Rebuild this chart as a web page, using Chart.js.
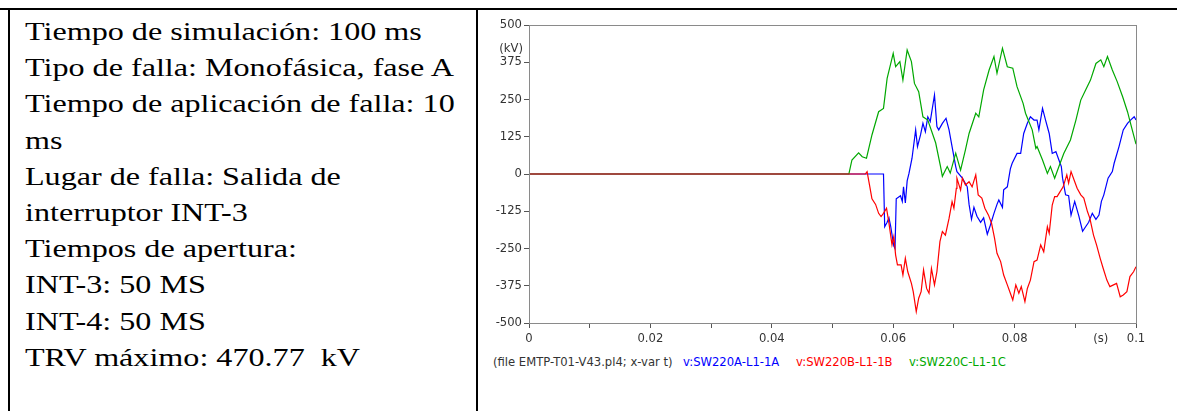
<!DOCTYPE html>
<html>
<head>
<meta charset="utf-8">
<script src="https://cdn.jsdelivr.net/npm/chart.js@4"></script>
<style>
  body { margin: 0; width: 1177px; height: 411px; background: #fff; position: relative; overflow: hidden; }
  .line { position: absolute; background: #000; }
  #info { position: absolute; left: 25px; top: 14px; font-family: "Liberation Serif", serif; font-size: 25px; line-height: 36.2px; color: #000; white-space: nowrap; transform: scaleX(1.285); transform-origin: 0 0; }
  #wrap { position: absolute; left: 480px; top: 10px; width: 670px; height: 340px; }
  .leg { position: absolute; top: 355px; font-family: "DejaVu Sans", sans-serif; font-size: 11.6px; color: #333; white-space: nowrap; }
</style>
</head>
<body>
<div class="line" style="left:0;top:8px;width:1177px;height:2px"></div>
<div class="line" style="left:8px;top:8px;width:2px;height:403px"></div>
<div class="line" style="left:476px;top:8px;width:2px;height:403px"></div>

<div id="info">
Tiempo de simulación: 100 ms<br>
Tipo de falla: Monofásica, fase A<br>
Tiempo de aplicación de falla: 10<br>
ms<br>
Lugar de falla: Salida de<br>
interruptor INT-3<br>
Tiempos de apertura:<br>
INT-3: 50 MS<br>
INT-4: 50 MS<br>
TRV máximo: 470.77&nbsp; kV
</div>

<div id="wrap"><canvas id="myChart" width="670" height="340"></canvas></div>
<div class="leg" style="left:493px">(file EMTP-T01-V43.pl4; x-var t)</div>
<div class="leg" style="left:683px;color:#0000ff">v:SW220A-L1-1A</div>
<div class="leg" style="left:796px;color:#ff0000">v:SW220B-L1-1B</div>
<div class="leg" style="left:909px;color:#00a800">v:SW220C-L1-1C</div>

<script>
// time (s) and voltage (kV)
const blueT = [0, 0.0584, 0.0586, 0.0590, 0.0593, 0.0596, 0.0601, 0.0603, 0.0605, 0.0612, 0.0615, 0.0617, 0.0620, 0.0623, 0.0626, 0.0631, 0.0637, 0.0640, 0.0645, 0.0649, 0.0653, 0.0657, 0.0661, 0.0668, 0.0672, 0.0675, 0.0681, 0.0687, 0.0692, 0.0696, 0.0700, 0.0703, 0.0705, 0.0714, 0.0722, 0.0725, 0.0729, 0.0733, 0.0738, 0.0744, 0.0749, 0.0755, 0.0760, 0.0766, 0.0771, 0.0774, 0.0780, 0.0782, 0.0788, 0.0793, 0.0796, 0.0804, 0.0810, 0.0815, 0.0821, 0.0826, 0.0832, 0.0837, 0.0840, 0.0846, 0.0851, 0.0857, 0.0862, 0.0868, 0.0873, 0.0877, 0.0879, 0.0884, 0.0889, 0.0893, 0.0899, 0.0906, 0.0912, 0.0917, 0.0922, 0.0928, 0.0934, 0.0939, 0.0943, 0.0947, 0.0954, 0.0961, 0.0964, 0.0972, 0.0979, 0.0986, 0.0991, 0.0997, 0.1];
const blueV = [0, 0, -177, -162, -147, -177, -242, -250, -83, -73, -92, -43, -97, -23, 2, 53, 148, 92, 131, 170, 142, 192, 176, 265, 159, 148, 170, 187, 148, 103, 58, 25, 8, -14, -43, -102, -152, -112, -142, -162, -147, -202, -172, -132, -102, -87, -112, -53, -43, 17, 36, 69, 69, 136, 170, 192, 181, 181, 148, 220, 181, 136, 69, 75, 47, 25, -14, -70, -73, -138, -92, -142, -192, -177, -162, -132, -152, -138, -92, -70, -14, 8, 36, 92, 148, 170, 181, 192, 181];

const redT = [0, 0.0554, 0.0557, 0.0561, 0.0565, 0.0571, 0.0576, 0.0580, 0.0584, 0.0589, 0.0593, 0.0598, 0.0601, 0.0604, 0.0607, 0.0613, 0.0616, 0.0620, 0.0624, 0.0630, 0.0633, 0.0638, 0.0642, 0.0646, 0.0650, 0.0655, 0.0659, 0.0663, 0.0668, 0.0672, 0.0677, 0.0681, 0.0686, 0.0692, 0.0697, 0.0700, 0.0704, 0.0705, 0.0711, 0.0714, 0.0719, 0.0725, 0.0730, 0.0736, 0.0740, 0.0746, 0.0751, 0.0757, 0.0762, 0.0767, 0.0771, 0.0777, 0.0782, 0.0788, 0.0793, 0.0797, 0.0802, 0.0807, 0.0811, 0.0817, 0.0821, 0.0826, 0.0832, 0.0837, 0.0843, 0.0848, 0.0854, 0.0857, 0.0862, 0.0866, 0.0870, 0.0875, 0.0880, 0.0886, 0.0889, 0.0893, 0.0898, 0.0903, 0.0909, 0.0914, 0.0920, 0.0924, 0.0930, 0.0935, 0.0941, 0.0946, 0.0952, 0.0957, 0.0963, 0.0968, 0.0974, 0.0979, 0.0985, 0.0990, 0.0996, 0.1];
const redV = [0, 0, 8, -37, -83, -102, -132, -143, -132, -115, -165, -238, -210, -272, -305, -305, -339, -283, -328, -367, -395, -462, -417, -395, -322, -384, -400, -317, -372, -328, -227, -193, -205, -149, -93, -115, -48, -14, -54, -14, -37, -26, -43, -3, -70, -81, -115, -138, -165, -216, -266, -294, -339, -372, -400, -423, -372, -400, -378, -428, -384, -356, -294, -289, -238, -261, -177, -199, -104, -76, -76, -59, -43, -3, -31, 8, -20, -48, -70, -81, -126, -149, -205, -238, -283, -317, -356, -378, -372, -367, -412, -406, -395, -344, -328, -311];

const greenT = [0, 0.0527, 0.0532, 0.0543, 0.0549, 0.0556, 0.0565, 0.0576, 0.0584, 0.0590, 0.0600, 0.0604, 0.0611, 0.0616, 0.0623, 0.0630, 0.0635, 0.0642, 0.0649, 0.0657, 0.0670, 0.0678, 0.0681, 0.0689, 0.0694, 0.0703, 0.0711, 0.0719, 0.0725, 0.0736, 0.0741, 0.0749, 0.0758, 0.0766, 0.0771, 0.0780, 0.0788, 0.0797, 0.0804, 0.0814, 0.0818, 0.0829, 0.0835, 0.0837, 0.0846, 0.0854, 0.0859, 0.0866, 0.0873, 0.0881, 0.0892, 0.0901, 0.0909, 0.0917, 0.0925, 0.0934, 0.0942, 0.0947, 0.0953, 0.0961, 0.0969, 0.0978, 0.0986, 0.0991, 0.1];
const greenV = [0, 0, 47, 71, 58, 53, 131, 209, 220, 321, 405, 360, 377, 315, 416, 377, 304, 276, 192, 181, 104, 25, -8, 25, 3, 70, 13, 81, 136, 204, 192, 282, 349, 394, 338, 422, 360, 355, 293, 237, 204, 148, 86, 92, 47, 2, 25, -14, 25, 69, 114, 181, 248, 282, 315, 371, 383, 360, 394, 349, 310, 259, 209, 170, 100];

const seriesNames = ["v:SW220A-L1-1A", "v:SW220B-L1-1B", "v:SW220C-L1-1C"];
const seriesColors = ["#0000ff", "#ff0000", "#00a800"];

const toPoints = (ts, vs) => ts.map((t, i) => ({ x: t, y: vs[i] }));

const tickFont = { family: "DejaVu Sans", size: 11.6 };

const frame = {
    id: "frame",
    afterDraw(chart) {
        const { ctx, chartArea, scales } = chart;
        ctx.save();
        ctx.strokeStyle = "#8a8a8a";
        ctx.lineWidth = 1;
        ctx.strokeRect(chartArea.left + 0.5, chartArea.top + 0.5, chartArea.right - chartArea.left, chartArea.bottom - chartArea.top);
        ctx.fillStyle = "#333";
        ctx.font = "11.6px 'DejaVu Sans'";
        ctx.textAlign = "right";
        ctx.textBaseline = "middle";
        ctx.fillText("(kV)", chartArea.left - 6, scales.y.getPixelForValue(420));
        ctx.textAlign = "center";
        ctx.fillText("(s)", scales.x.getPixelForValue(0.0942), chartArea.bottom + 16);
        ctx.restore();
    }
};

const ctx = document.getElementById("myChart");
new Chart(ctx, {
    type: "line",
    data: {
        // first dataset ends up drawn on top
        datasets: [
            { label: seriesNames[1], data: toPoints(redT, redV), borderColor: seriesColors[1] },
            { label: seriesNames[2], data: toPoints(greenT, greenV), borderColor: seriesColors[2] },
            { label: seriesNames[0], data: toPoints(blueT, blueV), borderColor: seriesColors[0] }
        ].map(d => Object.assign(d, { borderWidth: 1.2, pointRadius: 0, tension: 0, fill: false }))
    },
    options: {
        responsive: false,
        animation: false,
        layout: { padding: { top: 15, right: 14, left: 0, bottom: 0 } },
        plugins: { legend: { display: false }, tooltip: { enabled: false } },
        scales: {
            x: {
                type: "linear",
                min: 0,
                max: 0.1,
                afterFit: s => { s.height = 27; },
                ticks: {
                    stepSize: 0.01,
                    autoSkip: false,
                    maxRotation: 0,
                    padding: 4,
                    color: "#333",
                    font: tickFont,
                    callback: v => (Math.round(v * 100) % 2 === 0 ? String(Number(v.toFixed(2))) : "")
                },
                grid: { drawOnChartArea: false, tickLength: 5, color: "#555" },
                border: { color: "#555" }
            },
            y: {
                min: -500,
                max: 500,
                afterFit: s => { s.width = 49; },
                ticks: {
                    stepSize: 125,
                    padding: 2,
                    color: "#333",
                    font: tickFont
                },
                grid: { drawOnChartArea: false, tickLength: 5, color: "#555" },
                border: { color: "#555" }
            }
        }
    },
    plugins: [frame]
});
</script>
</body>
</html>
